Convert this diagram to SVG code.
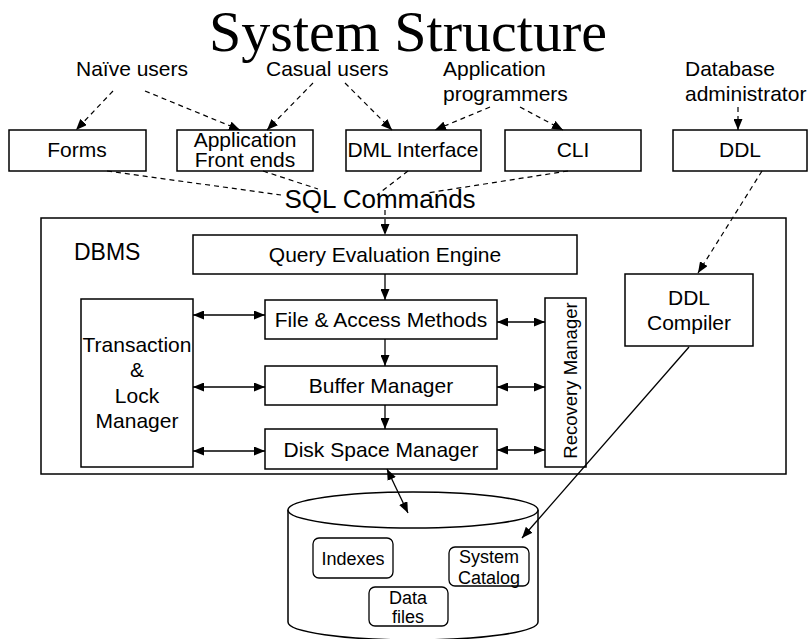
<svg xmlns="http://www.w3.org/2000/svg" width="809" height="639" viewBox="0 0 809 639">
<style>
.t{font-family:"Liberation Sans",Arial,sans-serif;font-size:21px;fill:#000}
.s18{font-size:18px}
.m{text-anchor:middle}
.box{fill:#fff;stroke:#000;stroke-width:1.5}
.rbox{fill:#fff;stroke:#000;stroke-width:1.3}
.ln{fill:none;stroke:#000;stroke-width:1.3}
.dl{fill:none;stroke:#000;stroke-width:1.2;stroke-dasharray:5 4}
</style>
<defs>
<marker id="ah" viewBox="0 0 11 9" refX="11" refY="4.5" markerWidth="11" markerHeight="9" markerUnits="userSpaceOnUse" orient="auto-start-reverse">
<path d="M0,0 L11,4.5 L0,9 z" fill="#000"/>
</marker>
</defs>
<rect width="809" height="639" fill="#fff"/>

<g id="title">
<text x="408" y="51" style="font-family:'Liberation Serif','Times New Roman',serif;font-size:58px" text-anchor="middle">System Structure</text>
</g>

<g id="users" class="t">
<text x="76" y="76">Naïve users</text>
<text x="266" y="76">Casual users</text>
<text x="443" y="76">Application</text>
<text x="443" y="101">programmers</text>
<text x="685" y="76">Database</text>
<text x="685" y="101">administrator</text>
</g>

<g id="dbms">
<rect class="box" x="41" y="218" width="745" height="256"/>
<text class="t" x="74" y="260" style="font-size:23px">DBMS</text>
</g>

<g id="forms"><rect class="box" x="9" y="130" width="137" height="41"/><text class="t m" x="77" y="157">Forms</text></g>
<g id="appfront"><rect class="box" x="177" y="130" width="136" height="41"/><text class="t m" x="245" y="147">Application</text><text class="t m" x="245" y="167">Front ends</text></g>
<g id="dml"><rect class="box" x="346" y="130" width="135" height="41"/><text class="t m" x="413" y="157">DML Interface</text></g>
<g id="cli"><rect class="box" x="505" y="130" width="136" height="41"/><text class="t m" x="573" y="157">CLI</text></g>
<g id="ddl"><rect class="box" x="673" y="130" width="134" height="41"/><text class="t m" x="740" y="157">DDL</text></g>

<g id="sql"><text class="t m" x="380" y="208" style="font-size:26px">SQL Commands</text></g>

<g id="qee"><rect class="box" x="193" y="235" width="384" height="39"/><text class="t m" x="385" y="262">Query Evaluation Engine</text></g>
<g id="fam"><rect class="box" x="265" y="300" width="232" height="39"/><text class="t m" x="381" y="327">File &amp; Access Methods</text></g>
<g id="bm"><rect class="box" x="265" y="366" width="232" height="39"/><text class="t m" x="381" y="393">Buffer Manager</text></g>
<g id="dsm"><rect class="box" x="265" y="429" width="232" height="40"/><text class="t m" x="381" y="457">Disk Space Manager</text></g>
<g id="tlm"><rect class="box" x="81" y="299" width="112" height="168"/>
<text class="t m" x="137" y="352">Transaction</text><text class="t m" x="137" y="377">&amp;</text><text class="t m" x="137" y="403">Lock</text><text class="t m" x="137" y="428">Manager</text></g>
<g id="rm"><rect class="box" x="545" y="298" width="41" height="169"/>
<text class="t m" style="font-size:18.5px" transform="translate(577,380.5) rotate(-90)">Recovery Manager</text></g>
<g id="ddlc"><rect class="box" x="625" y="274" width="128" height="72"/>
<text class="t m" x="689" y="305">DDL</text><text class="t m" x="689" y="330">Compiler</text></g>

<g id="db">
<path d="M288,510 L288,622 A125,18 0 0 0 538,622 L538,510" fill="#fff" stroke="#000" stroke-width="1.5"/>
<ellipse cx="413" cy="510" rx="125" ry="18" fill="#fff" stroke="#000" stroke-width="1.5"/>
</g>
<g id="indexes"><rect class="rbox" x="313" y="538" width="80" height="40" rx="6"/><text class="t s18 m" x="353" y="565">Indexes</text></g>
<g id="catalog"><rect class="rbox" x="449" y="547" width="80" height="39" rx="6"/><text class="t s18 m" x="489" y="563">System</text><text class="t s18 m" x="489" y="584">Catalog</text></g>
<g id="datafiles"><rect class="rbox" x="369" y="587" width="79" height="39" rx="6"/><text class="t s18 m" x="408" y="604">Data</text><text class="t s18 m" x="408" y="623">files</text></g>

<g id="connectors">
<line class="dl" x1="113" y1="91" x2="76" y2="130" marker-end="url(#ah)"/>
<line class="dl" x1="145" y1="91" x2="240" y2="130" marker-end="url(#ah)"/>
<line class="dl" x1="313" y1="83" x2="267" y2="130" marker-end="url(#ah)"/>
<line class="dl" x1="345" y1="83" x2="392" y2="130" marker-end="url(#ah)"/>
<line class="dl" x1="490" y1="107" x2="435" y2="130" marker-end="url(#ah)"/>
<line class="dl" x1="520" y1="107" x2="563" y2="130" marker-end="url(#ah)"/>
<line class="dl" x1="738" y1="107" x2="738" y2="130" marker-end="url(#ah)"/>
<line class="dl" x1="762" y1="171" x2="698" y2="273" marker-end="url(#ah)"/>
<line class="dl" x1="107" y1="171" x2="281" y2="195"/>
<line class="dl" x1="263" y1="171" x2="318" y2="189"/>
<line class="dl" x1="408" y1="171" x2="377" y2="195"/>
<line class="dl" x1="568" y1="171" x2="427" y2="193"/>
<line class="dl" x1="385" y1="210" x2="385" y2="235" marker-end="url(#ah)"/>
<line class="ln" x1="385" y1="274" x2="385" y2="300" marker-end="url(#ah)"/>
<line class="ln" x1="385" y1="339" x2="385" y2="366" marker-end="url(#ah)"/>
<line class="ln" x1="385" y1="405" x2="385" y2="429" marker-end="url(#ah)"/>
<line class="ln" x1="193" y1="315" x2="265" y2="315" marker-start="url(#ah)" marker-end="url(#ah)"/>
<line class="ln" x1="193" y1="387" x2="265" y2="387" marker-start="url(#ah)" marker-end="url(#ah)"/>
<line class="ln" x1="193" y1="451" x2="265" y2="451" marker-start="url(#ah)" marker-end="url(#ah)"/>
<line class="ln" x1="497" y1="322" x2="545" y2="322" marker-start="url(#ah)" marker-end="url(#ah)"/>
<line class="ln" x1="497" y1="387" x2="545" y2="387" marker-start="url(#ah)" marker-end="url(#ah)"/>
<line class="ln" x1="497" y1="450" x2="545" y2="450" marker-start="url(#ah)" marker-end="url(#ah)"/>
<line class="ln" x1="387" y1="469" x2="408" y2="513" marker-start="url(#ah)" marker-end="url(#ah)"/>
<line class="ln" x1="689" y1="347" x2="522" y2="538" marker-end="url(#ah)"/>
</g>
</svg>
